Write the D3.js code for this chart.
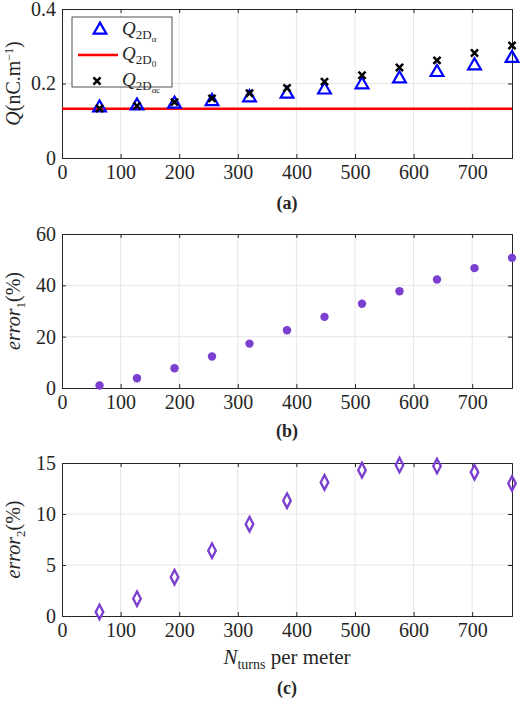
<!DOCTYPE html><html><head><meta charset="utf-8">
<script src="https://cdn.jsdelivr.net/npm/d3@7"></script>
<style>body{margin:0;background:#fff}svg text{font-family:"Liberation Serif","Times New Roman",serif !important;fill:#262626}</style></head><body>
<svg id="c" width="520" height="701"></svg>
<script>
const turns=[64,128,192,256,320,384,448,512,576,640,704,768];
const qAlpha=[0.135,0.14,0.145,0.152,0.162,0.172,0.183,0.197,0.213,0.23,0.248,0.268];
const qAlphaC=[0.133,0.14,0.15,0.16,0.174,0.188,0.205,0.222,0.243,0.262,0.282,0.302];
const q0=0.132;
const error1=[1,3.8,7.7,12.3,17.3,22.5,27.7,32.8,37.7,42.3,46.7,50.7];
const error2=[0.4,1.7,3.8,6.4,9.0,11.3,13.1,14.3,14.8,14.7,14.1,13.0];
const xTicks=[0,100,200,300,400,500,600,700];
const svg=d3.select("#c");
const x=d3.scaleLinear().domain([0,768]).range([62,512]);
const purple="#7b3fd0";
function panel(top,bot,ymax,yt,fmt,label){
  const y=d3.scaleLinear().domain([0,ymax]).range([bot,top]);
  const g=svg.append("g");
  g.append("g").selectAll("line").data(xTicks.slice(1)).join("line").attr("x1",d=>x(d)).attr("x2",d=>x(d)).attr("y1",top).attr("y2",bot).attr("stroke","#e6e6e6");
  g.append("g").selectAll("line").data(yt.slice(1,-1)).join("line").attr("x1",62).attr("x2",512).attr("y1",d=>y(d)).attr("y2",d=>y(d)).attr("stroke","#e6e6e6");
  g.append("g").attr("transform",`translate(0,${bot})`).call(d3.axisBottom(x).tickValues(xTicks).tickSize(-4).tickPadding(7));
  g.append("g").attr("transform","translate(62,0)").call(d3.axisLeft(y).tickValues(yt).tickFormat(fmt).tickSize(-4).tickPadding(6));
  g.append("g").attr("transform",`translate(0,${top})`).call(d3.axisTop(x).tickValues(xTicks).tickSize(-4).tickFormat(""));
  g.append("g").attr("transform","translate(512,0)").call(d3.axisRight(y).tickValues(yt).tickSize(-4).tickFormat(""));
  g.selectAll(".domain,.tick line").attr("stroke","#262626");
  g.selectAll(".tick text").style("font-size","20px").attr("fill","#262626");
  g.append("text").attr("transform",`translate(20,${(top+bot)/2}) rotate(-90)`).attr("text-anchor","middle").style("font-size","20px").html(label);
  return y;
}
const ya=panel(9,158,0.4,[0,0.2,0.4],d=>d===0?"0":d3.format(".1f")(d),'<tspan font-style="italic">Q</tspan>(nC.m<tspan dy="-7" font-size="12">−1</tspan><tspan dy="7">)</tspan>');
svg.append("line").attr("x1",x(0)).attr("x2",x(768)).attr("y1",ya(q0)).attr("y2",ya(q0)).attr("stroke","#f00").attr("stroke-width",2.5);
const tri=d3.symbol().type(d3.symbolTriangle).size(70);
svg.append("g").selectAll("path").data(turns).join("path").attr("d",tri).attr("transform",(d,i)=>`translate(${x(d)},${ya(qAlpha[i])})`).attr("fill","none").attr("stroke","#0000ff").attr("stroke-width",2.2);
const cross=d3.symbol().type(d3.symbolX).size(35);
svg.append("g").selectAll("path").data(turns).join("path").attr("d",cross).attr("transform",(d,i)=>`translate(${x(d)},${ya(qAlphaC[i])})`).attr("fill","none").attr("stroke","#000").attr("stroke-width",2.5);
const lg=svg.append("g");
lg.append("rect").attr("x",72).attr("y",17).attr("width",100).attr("height",70).attr("fill","#fff").attr("stroke","#262626").attr("stroke-width",0.8);
lg.append("path").attr("d",tri).attr("transform","translate(100,30)").attr("fill","none").attr("stroke","#0000ff").attr("stroke-width",2.2);
lg.append("line").attr("x1",78).attr("x2",118).attr("y1",55).attr("y2",55).attr("stroke","#f00").attr("stroke-width",2.5);
lg.append("path").attr("d",cross).attr("transform","translate(97,81)").attr("fill","none").attr("stroke","#000").attr("stroke-width",2.5);
const leg=[[35,"α"],[60,"0"],[86,"αc"]];
leg.forEach(([yy,s])=>{const t=lg.append("text").attr("x",122).attr("y",yy).style("font-size","19px");
 t.append("tspan").attr("font-style","italic").text("Q");
 t.append("tspan").attr("dy",4).attr("font-size","13").text("2D");
 t.append("tspan").attr("dy",3).attr("font-size","9").text(s);});
svg.append("text").attr("x",287).attr("y",209).attr("text-anchor","middle").style("font-size","18px").style("font-weight","bold").text("(a)");
const yb=panel(234,388,60,[0,20,40,60],d=>d,'<tspan font-style="italic">error</tspan><tspan dy="5" font-size="13">1</tspan><tspan dy="-5">(%)</tspan>');
svg.append("g").selectAll("circle").data(turns).join("circle").attr("cx",d=>x(d)).attr("cy",(d,i)=>yb(error1[i])).attr("r",4.2).attr("fill",purple);
svg.append("text").attr("x",287).attr("y",437).attr("text-anchor","middle").style("font-size","18px").style("font-weight","bold").text("(b)");
const yc=panel(463,616,15,[0,5,10,15],d=>d,'<tspan font-style="italic">error</tspan><tspan dy="5" font-size="13">2</tspan><tspan dy="-5">(%)</tspan>');
const dia=d3.symbol().type(d3.symbolDiamond).size(55);
svg.append("g").selectAll("path").data(turns).join("path").attr("d",dia).attr("transform",(d,i)=>`translate(${x(d)},${yc(error2[i])}) scale(0.95,1.05)`).attr("fill","none").attr("stroke",purple).attr("stroke-width",2.4);
svg.append("text").attr("x",287).attr("y",664).attr("text-anchor","middle").style("font-size","21px").html('<tspan font-style="italic">N</tspan><tspan dy="5" font-size="14">turns</tspan><tspan dy="-5"> per meter</tspan>');
svg.append("text").attr("x",287).attr("y",694).attr("text-anchor","middle").style("font-size","18px").style("font-weight","bold").text("(c)");
</script></body></html>
